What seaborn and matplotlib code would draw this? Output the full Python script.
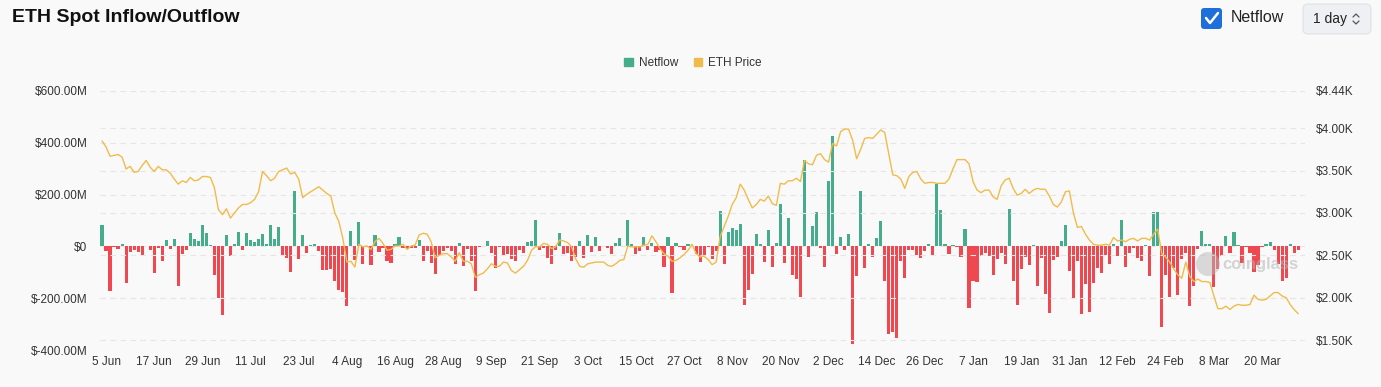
import numpy as np
import pandas as pd
import seaborn as sns
from matplotlib import pyplot as plt
from matplotlib.lines import Line2D
from matplotlib.patches import Circle, FancyBboxPatch, Patch

# daily netflow, $M (first bar = 4 Jun 2024)
netflow = [
    81, -19, -172, -4, -10, 10, -141, -22, -12, -20,
    -38, 3, -15, -104, -6, -55, 23, -10, 29, -154,
    -31, -12, 51, 29, 20, 83, 53, 6, -112, -199,
    -265, 45, -38, 9, 55, -13, 51, 23, 18, 27,
    46, 10, 83, 29, 73, -33, -44, -100, 213, -47,
    45, -26, 6, 9, -19, -92, -90, -87, -135, -169,
    -176, -229, 60, -51, 95, -69, -2, -71, 45, -22,
    -6, -58, -64, 9, 37, -6, -10, -8, -8, 23,
    -58, -19, -64, -108, -35, -19, -6, -19, -68, 15,
    -76, -9, -55, -172, -4, 3, 20, -24, -83, -1,
    -37, -31, -47, -55, -12, -24, 18, 22, 101, -14,
    -6, -45, -68, -15, 53, -28, -24, -55, -41, 20,
    -44, 45, -22, 37, -19, 3, -6, -28, 14, 33,
    2, 101, 9, -31, -18, 38, -12, 13, -22, -15,
    -79, 37, -179, 14, -1, -14, 10, 3, -29, -60,
    -35, -4, -50, -19, 135, -68, 55, 72, 63, 87,
    -228, -168, -108, 46, 10, -60, 65, -81, 15, 164,
    -63, 109, -112, -127, -196, 333, -41, 78, 132, -5,
    -79, 251, 427, -28, 35, -15, 46, -377, -114, 213,
    -83, 9, -42, 33, 99, -133, -340, -329, -355, -55,
    -123, -12, -15, -32, -45, -19, 10, -38, 242, 142,
    9, -31, 6, -4, -41, 68, -236, -135, -138, -36,
    -26, -38, -110, -47, -24, -69, 144, -132, -228, -86,
    -42, -72, 6, -151, -44, -183, -256, -54, -41, 19,
    81, -95, -203, -55, -262, -146, -253, -140, -85, -103,
    -35, -69, 10, -38, 100, -79, -24, -5, -46, -58,
    6, -114, 132, 132, -312, -109, -196, -82, -187, -50,
    -24, -229, -152, -9, 59, 10, 10, -158, -88, -38,
    41, -26, 54, 5, -63, -4, -24, -100, -73, -4,
    8, 17, -13, -67, -133, -123, 10, -24, -14,
]

# ETH price, $K
eth_price = [
    3.85, 3.78, 3.67, 3.68, 3.69, 3.66, 3.52, 3.55, 3.48, 3.49,
    3.56, 3.62, 3.54, 3.49, 3.55, 3.51, 3.51, 3.47, 3.40, 3.34,
    3.38, 3.36, 3.42, 3.38, 3.39, 3.43, 3.43, 3.42, 3.30, 3.04,
    2.98, 3.05, 2.94, 3.00, 3.06, 3.10, 3.10, 3.12, 3.16, 3.25,
    3.49, 3.44, 3.38, 3.41, 3.49, 3.51, 3.53, 3.46, 3.48, 3.40,
    3.18, 3.22, 3.25, 3.28, 3.31, 3.27, 3.23, 3.20, 3.00, 2.90,
    2.70, 2.42, 2.43, 2.36, 2.63, 2.60, 2.61, 2.57, 2.66, 2.70,
    2.64, 2.56, 2.57, 2.61, 2.61, 2.63, 2.57, 2.61, 2.62, 2.74,
    2.76, 2.75, 2.66, 2.47, 2.50, 2.52, 2.52, 2.48, 2.43, 2.53,
    2.43, 2.43, 2.40, 2.24, 2.27, 2.29, 2.34, 2.40, 2.37, 2.37,
    2.42, 2.41, 2.32, 2.29, 2.33, 2.37, 2.44, 2.56, 2.60, 2.60,
    2.64, 2.63, 2.58, 2.60, 2.68, 2.67, 2.65, 2.60, 2.46, 2.37,
    2.36, 2.40, 2.41, 2.42, 2.42, 2.42, 2.38, 2.37, 2.40, 2.44,
    2.45, 2.61, 2.60, 2.60, 2.60, 2.62, 2.63, 2.73, 2.66, 2.58,
    2.52, 2.49, 2.43, 2.44, 2.47, 2.51, 2.56, 2.63, 2.52, 2.48,
    2.49, 2.45, 2.39, 2.42, 2.72, 2.84, 2.96, 3.10, 3.18, 3.34,
    3.27, 3.16, 3.06, 3.10, 3.16, 3.14, 3.20, 3.11, 3.09, 3.35,
    3.34, 3.38, 3.38, 3.41, 3.37, 3.62, 3.58, 3.57, 3.68, 3.70,
    3.63, 3.60, 3.82, 3.79, 3.96, 3.99, 3.99, 3.86, 3.64, 3.75,
    3.88, 3.89, 3.88, 3.93, 3.98, 3.95, 3.70, 3.45, 3.44, 3.40,
    3.29, 3.43, 3.48, 3.49, 3.40, 3.35, 3.36, 3.36, 3.35, 3.35,
    3.35, 3.40, 3.52, 3.63, 3.63, 3.63, 3.58, 3.37, 3.27, 3.24,
    3.27, 3.27, 3.19, 3.16, 3.32, 3.39, 3.41, 3.29, 3.21, 3.23,
    3.28, 3.23, 3.27, 3.29, 3.28, 3.28, 3.20, 3.10, 3.07, 3.13,
    3.25, 3.26, 3.00, 2.83, 2.84, 2.75, 2.68, 2.63, 2.62, 2.62,
    2.63, 2.62, 2.71, 2.67, 2.68, 2.66, 2.69, 2.70, 2.67, 2.70,
    2.70, 2.68, 2.75, 2.81, 2.52, 2.48, 2.42, 2.34, 2.27, 2.23,
    2.42, 2.25, 2.19, 2.22, 2.19, 2.19, 2.18, 2.02, 1.87, 1.87,
    1.90, 1.86, 1.90, 1.92, 1.91, 1.91, 1.92, 2.03, 1.98, 1.97,
    1.98, 2.02, 2.06, 2.06, 2.02, 2.00, 1.92, 1.86, 1.81,
]

x_labels = ["5 Jun", "17 Jun", "29 Jun", "11 Jul", "23 Jul", "4 Aug", "16 Aug",
            "28 Aug", "9 Sep", "21 Sep", "3 Oct", "15 Oct", "27 Oct", "8 Nov",
            "20 Nov", "2 Dec", "14 Dec", "26 Dec", "7 Jan", "19 Jan", "31 Jan",
            "12 Feb", "24 Feb", "8 Mar", "20 Mar"]
left_ticks = [-400, -200, 0, 200, 400, 600]
left_labels = ["$-400.00M", "$-200.00M", "$0", "$200.00M", "$400.00M", "$600.00M"]
right_ticks = [1.5, 2.0, 2.5, 3.0, 3.5, 4.0, 4.44]
right_labels = ["$1.50K", "$2.00K", "$2.50K", "$3.00K", "$3.50K", "$4.00K", "$4.44K"]

GREEN = "#45ad8b"
RED = "#ef4850"
GOLD = "#efbc4c"
BG = "#f9f9f9"
W, H = 1381, 387


def px(x, y):
    # pixel position -> inches (figure dpi = 100)
    return x / 100, (H - y) / 100


def main():
    sns.set_theme(style="white")
    plt.rcParams["font.family"] = ["Liberation Sans", "DejaVu Sans"]

    df = pd.DataFrame({"day": np.arange(len(netflow)), "netflow": netflow,
                       "price": eth_price})
    df["side"] = np.where(df["netflow"] >= 0, "in", "out")

    fig = plt.figure(figsize=(W / 100, H / 100), dpi=100, facecolor=BG)
    ax = fig.add_axes([100 / W, 37 / H, 1205 / W, 259 / H])
    ax.set_facecolor(BG)

    sns.barplot(data=df, x="day", y="netflow", hue="side",
                palette={"in": GREEN, "out": RED}, saturation=1,
                dodge=False, width=0.78, linewidth=0, legend=False,
                ax=ax, zorder=2)

    ax2 = ax.twinx()
    sns.lineplot(data=df, x="day", y="price", color=GOLD, lw=1.0, ax=ax2)

    ax.set_xlim(-0.5, 299.7)
    ax.set_ylim(-400, 600)
    ax2.set_ylim(1.382, 4.44)

    ax.set_yticks(left_ticks, left_labels)
    ax2.set_yticks(right_ticks, right_labels)
    ax.set_xticks([1 + 12 * i for i in range(len(x_labels))], x_labels)

    for a in (ax, ax2):
        a.set_xlabel("")
        a.set_ylabel("")
        for s in a.spines.values():
            s.set_visible(False)
        a.grid(axis="y", color="#e6e6e6", lw=0.8, ls=(0, (5, 4)))
        a.grid(axis="x", visible=False)
        a.tick_params(length=0, labelsize=8.5, colors="#333333")
    ax.set_axisbelow(True)
    ax.tick_params(axis="y", pad=9)
    ax.tick_params(axis="x", pad=4)
    ax2.tick_params(axis="y", pad=8)

    # header
    fig.text(12 / W, 1 - 18 / H, "ETH Spot Inflow/Outflow", fontsize=14,
             fontweight="bold", va="center", color="#111111")

    tr = fig.dpi_scale_trans
    x0, y0 = px(1201, 29)
    fig.patches.append(FancyBboxPatch((x0, y0), 0.21, 0.21,
                                      boxstyle="round,pad=0,rounding_size=0.03",
                                      fc="#1e6fd9", ec="none", transform=tr))
    cx, cy = zip(px(1206, 18), px(1210, 23), px(1218, 13))
    fig.lines.append(Line2D(cx, cy, color="white", lw=1.8, transform=tr))
    fig.text(1231 / W, 1 - 18 / H, "Netflow", fontsize=11.5, va="center",
             color="#222222")

    x0, y0 = px(1303, 34)
    fig.patches.append(FancyBboxPatch((x0, y0), 0.68, 0.30,
                                      boxstyle="round,pad=0,rounding_size=0.05",
                                      fc="#eef0f3", ec="#dfe2e6", lw=0.8,
                                      transform=tr))
    fig.text(1313 / W, 1 - 19 / H, "1 day", fontsize=10, va="center",
             color="#222222")
    ux, uy = zip(px(1353, 17), px(1356, 14), px(1359, 17))
    dx, dy = zip(px(1353, 21), px(1356, 24), px(1359, 21))
    fig.lines.append(Line2D(ux, uy, color="#555555", lw=0.9, transform=tr))
    fig.lines.append(Line2D(dx, dy, color="#555555", lw=0.9, transform=tr))

    handles = [Patch(color=GREEN, label="Netflow"), Patch(color=GOLD, label="ETH Price")]
    fig.legend(handles=handles, loc="center", bbox_to_anchor=(693 / W, 1 - 63 / H),
               ncol=2, frameon=False, fontsize=8.5, handlelength=0.75,
               handleheight=0.75, handletextpad=0.5, columnspacing=1.3,
               labelcolor="#333333")

    # watermark
    fig.patches.append(Circle(px(1208, 264), 0.12, fc="#b8b8b8", ec="none",
                              alpha=0.5, transform=tr))
    fig.text(1222 / W, 1 - 265 / H, "coinglass", fontsize=12, fontweight="bold",
             va="center", color="#b4b4b4", alpha=0.55)

    fig.savefig("out.png", dpi=100, facecolor=fig.get_facecolor())


if __name__ == "__main__":
    main()
